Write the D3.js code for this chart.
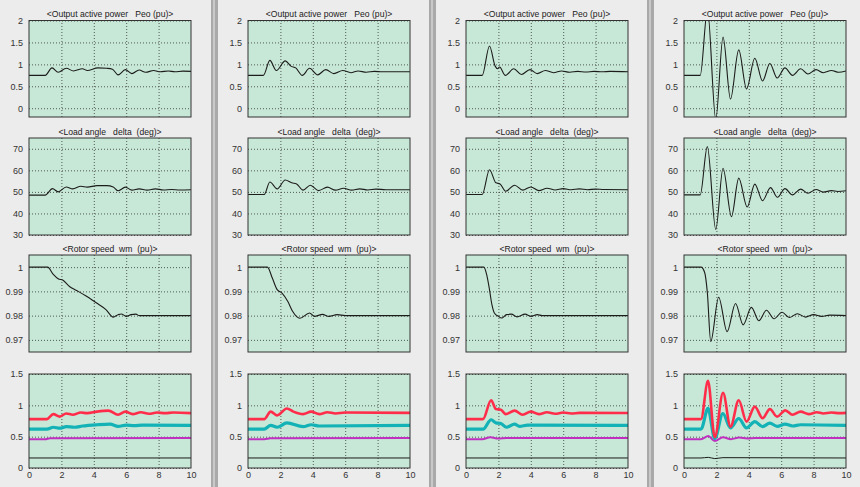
<!DOCTYPE html>
<html><head><meta charset="utf-8">
<script src="https://cdn.jsdelivr.net/npm/d3@7"></script>
<style>
body{margin:0;background:#ececec;}
svg{display:block;font-family:"Liberation Sans",Arial,sans-serif;}
.ttl{white-space:pre;}
</style>
</head><body><svg id="c" width="860" height="487"></svg>
<script>
// ---------- tick labels / titles ----------
const timeTicks = [0, 2, 4, 6, 8, 10];
const titles = ["<Output active power   Peo (pu)>", "<Load angle   delta  (deg)>", "<Rotor speed  wm  (pu)>", null];
const peoTicks = [0, 0.5, 1, 1.5, 2];
const deltaTicks = [30, 40, 50, 60, 70];
const wmTicks = [0.97, 0.98, 0.99, 1];
const outTicks = [0, 0.5, 1, 1.5];

// ---------- column A ----------
const peoA = [[0,0.75],[1.0,0.75],[1.42,0.92],[1.8,0.82],[2.3,0.91],[2.75,0.85],[3.3,0.9],[3.6,0.86],[4.25,0.92],[4.8,0.91],[5.15,0.89],[5.5,0.76],[5.95,0.88],[6.35,0.79],[6.8,0.87],[7.2,0.82],[7.7,0.86],[8.1,0.83],[8.6,0.85],[9.0,0.83],[9.5,0.845],[10,0.84]];
const deltaA = [[0,48.5],[1,48.5],[1.45,51.5],[1.8,50],[2.3,52.3],[2.7,51.4],[3.2,52.6],[3.6,52.2],[4.2,52.9],[4.8,52.9],[5.2,52.3],[5.5,50.5],[5.95,52.2],[6.35,50.8],[6.8,51.4],[7.3,50.8],[7.8,51.4],[8.3,50.9],[8.8,51.1],[9.3,50.9],[10,51]];
const wmA = [[0,1],[1.15,1],[1.5,0.997],[1.8,0.9952],[2.1,0.9946],[2.5,0.992],[2.9,0.9905],[3.5,0.9882],[4.15,0.9853],[4.75,0.9825],[5.2,0.9794],[5.5,0.9804],[5.7,0.9807],[6.0,0.9797],[6.3,0.9804],[6.6,0.9806],[6.8,0.98],[10,0.98]];
const redA = [[0,0.78],[1.1,0.78],[1.5,0.86],[1.9,0.82],[2.3,0.87],[2.7,0.85],[3.2,0.885],[3.6,0.875],[4.2,0.9],[4.9,0.915],[5.5,0.85],[5.95,0.9],[6.4,0.86],[6.9,0.89],[7.4,0.865],[7.9,0.885],[8.4,0.875],[8.9,0.885],[10,0.875]];
const cyanA = [[0,0.62],[1.1,0.62],[1.5,0.65],[1.9,0.635],[2.3,0.66],[2.8,0.65],[3.3,0.67],[4.2,0.69],[5,0.70],[5.5,0.665],[6,0.685],[6.5,0.675],[7,0.685],[10,0.68]];
const magA = [[0,0.46],[1.0,0.46],[1.3,0.475],[10,0.477]];
const blackA = [[0,0.16],[10,0.16]];

// ---------- column B ----------
const peoB = [[0,0.75],[0.95,0.75],[1.35,1.09],[1.75,0.86],[2.3,1.08],[2.65,0.96],[2.95,0.92],[3.35,0.75],[3.8,0.91],[4.3,0.76],[4.8,0.88],[5.3,0.79],[5.85,0.86],[6.35,0.81],[6.8,0.85],[7.3,0.82],[7.8,0.84],[8.3,0.83],[10,0.83]];
const deltaB = [[0,48.8],[1,48.8],[1.35,54.6],[1.8,51.4],[2.3,55.5],[2.7,54.2],[3.0,53.7],[3.4,50.8],[3.85,53.1],[4.35,50.6],[4.9,52.2],[5.4,50.8],[5.9,51.7],[6.4,50.8],[6.9,51.4],[7.4,50.9],[7.9,51.3],[8.5,51],[10,51]];
const wmB = [[0,1],[1.2,1],[1.5,0.9955],[1.8,0.9907],[2.1,0.9893],[2.45,0.9859],[2.75,0.9818],[3.2,0.9789],[3.8,0.9811],[4.1,0.9797],[4.6,0.9805],[5.0,0.9797],[5.5,0.9804],[6,0.98],[10,0.98]];
const redB = [[0,0.78],[1.0,0.78],[1.4,0.9],[1.8,0.84],[2.4,0.95],[2.8,0.9],[3.4,0.86],[3.9,0.9],[4.4,0.86],[4.9,0.89],[5.4,0.87],[6,0.885],[10,0.88]];
const cyanB = [[0,0.62],[1.0,0.62],[1.4,0.68],[1.8,0.65],[2.4,0.72],[3.4,0.66],[3.9,0.69],[4.4,0.67],[10,0.68]];
const magB = [[0,0.46],[1.0,0.46],[1.4,0.475],[10,0.477]];
const blackB = [[0,0.16],[10,0.16]];

// ---------- column C ----------
const peoC = [[0,0.75],[1.0,0.75],[1.45,1.42],[1.8,0.96],[1.95,0.9],[2.07,0.94],[2.43,0.75],[2.95,0.9],[3.42,0.77],[3.95,0.88],[4.4,0.79],[4.9,0.86],[5.4,0.81],[5.9,0.85],[6.4,0.82],[6.9,0.84],[7.4,0.825],[7.9,0.84],[8.4,0.83],[8.9,0.84],[10,0.83]];
const deltaC = [[0,48.8],[1,48.8],[1.45,60.3],[1.85,54.2],[2.1,53.7],[2.45,50.3],[3.0,53.1],[3.5,50.8],[4.0,52.3],[4.5,50.6],[5.0,51.7],[5.5,50.9],[6.0,51.5],[6.5,51],[7,51.4],[7.5,51],[8,51.3],[8.5,51.1],[10,51]];
const wmC = [[0,1],[1.1,1],[1.28,0.9968],[1.45,0.9907],[1.6,0.9845],[1.75,0.9811],[2.0,0.9797],[2.2,0.979],[2.5,0.9804],[2.8,0.9806],[3.15,0.9795],[3.65,0.9806],[4.0,0.9797],[4.4,0.9804],[4.7,0.98],[10,0.98]];
const redC = [[0,0.78],[1.05,0.78],[1.55,1.08],[1.85,0.94],[2.15,0.93],[2.45,0.86],[3.0,0.915],[3.5,0.85],[4.0,0.9],[4.5,0.86],[5.0,0.89],[5.5,0.865],[6,0.885],[6.5,0.87],[7,0.88],[10,0.877]];
const cyanC = [[0,0.62],[1.05,0.62],[1.55,0.77],[1.85,0.72],[2.15,0.71],[2.5,0.65],[3.0,0.70],[3.3,0.665],[3.8,0.685],[10,0.68]];
const magC = [[0,0.46],[1.0,0.46],[1.5,0.49],[2.0,0.47],[2.5,0.478],[10,0.477]];
const blackC = [[0,0.16],[10,0.16]];

// ---------- column D ----------
const peoD = [[0,0.75],[1.0,0.75],[1.45,2.25],[1.96,-0.25],[2.41,1.62],[2.87,0.21],[3.38,1.33],[3.86,0.44],[4.37,1.14],[4.85,0.62],[5.3,1.02],[5.75,0.69],[6.23,0.92],[6.7,0.75],[7.2,0.9],[7.65,0.78],[8.15,0.88],[8.6,0.81],[9.1,0.86],[9.55,0.82],[10,0.85]];
const deltaD = [[0,48.6],[1,48.6],[1.44,71],[1.96,32.6],[2.41,61],[2.93,38.5],[3.38,56.4],[3.9,43],[4.37,53.6],[4.85,45.9],[5.34,52],[5.77,47.5],[6.23,51.5],[6.7,48.6],[7.2,51.3],[7.65,49.4],[8.15,51.1],[8.6,49.9],[9.1,50.6],[9.5,50.2],[10,50.5]];
const wmD = [[0,1],[1.05,1],[1.28,0.9977],[1.44,0.9896],[1.65,0.9693],[2.14,0.9876],[2.66,0.9734],[3.18,0.985],[3.65,0.9762],[4.16,0.9834],[4.62,0.9779],[5.09,0.9822],[5.56,0.9787],[6.05,0.9814],[6.5,0.9792],[7.0,0.9808],[7.5,0.9794],[8,0.9804],[8.5,0.9797],[9,0.9802],[10,0.98]];
const redD = [[0,0.78],[1.05,0.78],[1.48,1.39],[1.9,0.49],[2.41,1.2],[2.87,0.66],[3.38,1.08],[3.86,0.74],[4.37,0.98],[4.85,0.795],[5.3,0.94],[5.75,0.82],[6.25,0.92],[6.7,0.85],[7.2,0.9],[7.7,0.86],[8.2,0.89],[8.6,0.87],[9.1,0.885],[9.6,0.875],[10,0.88]];
const cyanD = [[0,0.62],[1.05,0.62],[1.48,0.95],[1.9,0.47],[2.4,0.87],[2.87,0.64],[3.38,0.79],[3.86,0.64],[4.37,0.74],[4.85,0.66],[5.3,0.715],[5.75,0.665],[6.25,0.7],[6.7,0.67],[7.2,0.69],[10,0.68]];
const magD = [[0,0.46],[1.05,0.46],[1.5,0.51],[1.9,0.43],[2.4,0.49],[2.9,0.46],[3.4,0.485],[3.9,0.47],[4.4,0.48],[10,0.477]];
const blackD = [[0,0.16],[1.05,0.16],[1.5,0.17],[1.9,0.15],[2.4,0.165],[10,0.16]];

// ---------- layout ----------
const svg = d3.select("#c");
const colLefts = [29, 248, 466, 684];
const plotW = 162;
const rowTops = [20.5, 138, 255, 374];
const rowBottoms = [117, 235, 352, 468];
const rowDomains = [[-0.2, 2], [30, 75], [0.965, 1.005], [0, 1.5]];
const rowTicks = [peoTicks, deltaTicks, wmTicks, outTicks];
const separators = [211, 429, 647];

separators.forEach(x => {
  svg.append("rect").attr("x", x).attr("y", 0).attr("width", 7).attr("height", 487).attr("fill", "#a9a9a9");
  svg.append("rect").attr("x", x + 2).attr("y", 0).attr("width", 2).attr("height", 487).attr("fill", "#c8c8c8");
});

const cols = [
  {rows: [[peoA], [deltaA], [wmA], [blackA, magA, cyanA, redA]]},
  {rows: [[peoB], [deltaB], [wmB], [blackB, magB, cyanB, redB]]},
  {rows: [[peoC], [deltaC], [wmC], [blackC, magC, cyanC, redC]]},
  {rows: [[peoD], [deltaD], [wmD], [blackD, magD, cyanD, redD]]}
];
const outStyles = [
  {c: "#1a1a1a", w: 1},
  {c: "#c030c0", w: 2},
  {c: "#12b2b6", w: 3.2},
  {c: "#ff2d4a", w: 2.6}
];

cols.forEach((col, ci) => {
  const x0 = colLefts[ci];
  const x = d3.scaleLinear().domain([0, 10]).range([x0, x0 + plotW]);
  col.rows.forEach((series, ri) => {
    const y = d3.scaleLinear().domain(rowDomains[ri]).range([rowBottoms[ri], rowTops[ri]]);
    const g = svg.append("g");
    const h = rowBottoms[ri] - rowTops[ri];
    const cid = `clip${ci}_${ri}`;
    svg.append("clipPath").attr("id", cid).append("rect")
      .attr("x", x0).attr("y", rowTops[ri]).attr("width", plotW).attr("height", h);
    g.append("rect").attr("x", x0).attr("y", rowTops[ri]).attr("width", plotW).attr("height", h)
      .attr("fill", "#c7e8d7");
    // grid
    const gx = d3.axisBottom(x).tickValues(timeTicks.slice(1, -1)).tickSize(-h).tickFormat("");
    g.append("g").attr("transform", `translate(0,${rowBottoms[ri]})`).call(gx)
      .call(s => s.select(".domain").remove())
      .selectAll("line").attr("stroke", "#333").attr("stroke-dasharray", "1,2").attr("stroke-width", 0.8);
    const gy = d3.axisLeft(y).tickValues(rowTicks[ri]).tickSize(-plotW).tickFormat(d => d);
    const ay = g.append("g").attr("transform", `translate(${x0},0)`).call(gy);
    ay.select(".domain").remove();
    ay.selectAll("line").attr("stroke", "#333").attr("stroke-dasharray", "1,2").attr("stroke-width", 0.8);
    ay.selectAll("text").attr("font-size", 9).attr("fill", "#333").attr("x", -6)
      .attr("font-family", "Liberation Sans, Arial, sans-serif");
    // lines
    const line = d3.line().x(d => x(d[0])).y(d => y(d[1])).curve(d3.curveMonotoneX);
    const lg = g.append("g").attr("clip-path", `url(#${cid})`);
    series.forEach((s, si) => {
      const st = ri === 3 ? outStyles[si] : {c: "#1c1c1c", w: 1.1};
      lg.append("path").datum(s).attr("d", line).attr("fill", "none")
        .attr("stroke", st.c).attr("stroke-width", st.w).attr("stroke-linejoin", "round");
    });
    // frame
    g.append("rect").attr("x", x0).attr("y", rowTops[ri]).attr("width", plotW).attr("height", h)
      .attr("fill", "none").attr("stroke", "#333").attr("stroke-width", 1);
    // title
    if (titles[ri]) {
      svg.append("text").attr("class", "ttl").attr("x", x0 + plotW / 2).attr("y", rowTops[ri] - 3.5)
        .attr("text-anchor", "middle").attr("font-size", 8.6).attr("fill", "#222").text(titles[ri]);
    }
    // x labels on bottom row
    if (ri === 3) {
      const ax = d3.axisBottom(x).tickValues(timeTicks).tickSize(0).tickPadding(4).tickFormat(d => d);
      const a = svg.append("g").attr("transform", `translate(0,${rowBottoms[ri]})`).call(ax);
      a.select(".domain").remove();
      a.selectAll("text").attr("font-size", 9).attr("fill", "#333")
        .attr("font-family", "Liberation Sans, Arial, sans-serif");
    }
  });
});
</script>
</body></html>
